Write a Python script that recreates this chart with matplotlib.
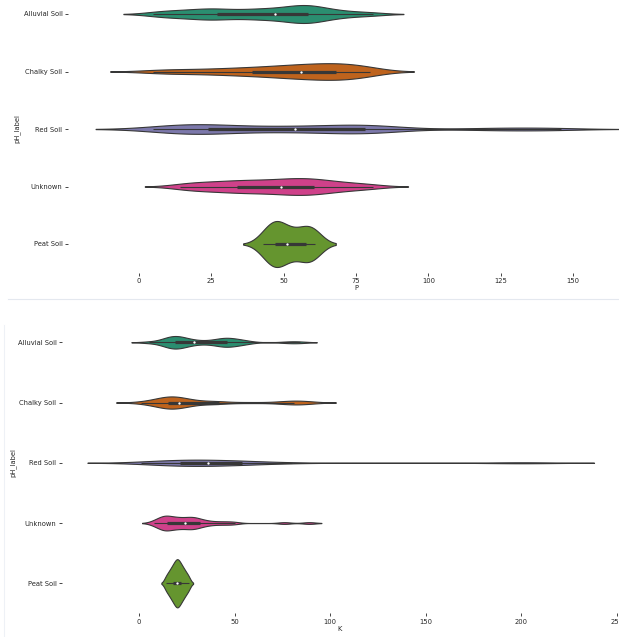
import colorsys
import matplotlib
matplotlib.use('Agg')
import matplotlib.pyplot as plt
from matplotlib import cbook
from matplotlib.lines import Line2D
from matplotlib.ticker import MultipleLocator
import numpy as np
import seaborn as sns


CATEGORIES = ['Alluvial Soil', 'Chalky Soil', 'Red Soil', 'Unknown', 'Peat Soil']

# P 的估计样本（按图形读出）
P_ALLUVIAL = [5, 9, 13, 16, 19, 22, 24, 26, 28, 31, 34, 37, 40, 42, 44, 47,
              49, 51, 53, 54, 56, 57, 58, 59, 61, 62, 64, 67, 70, 75, 81]
P_CHALKY = [5, 11, 17, 23, 28, 32, 36, 39, 42, 45, 48, 50, 52, 54, 56, 58,
            60, 62, 63, 65, 67, 68, 70, 71, 73, 75, 77, 79, 80]
P_RED = [5, 8, 11, 14, 17, 19, 21, 23, 25, 28, 32, 36, 40, 45, 50, 54,
         58, 62, 66, 70, 73, 75, 77, 79, 82, 86, 92, 118, 128, 137, 146]
P_UNKNOWN = [14, 17, 20, 23, 26, 28, 31, 33, 35, 37, 39, 41, 43, 45, 47, 49,
             51, 52, 54, 55, 57, 58, 60, 61, 63, 65, 67, 70, 73, 77, 81]
P_PEAT = [43, 45, 46, 46.5, 47.5, 48, 49, 51, 52.5, 55, 57, 58.5, 59.5, 60, 61]

# K 的估计样本
K_ALLUVIAL = [5, 12, 14, 15, 16, 17, 18, 18, 20, 20, 21, 22, 23, 25, 27, 29,
              33, 37, 40, 42, 44, 45, 45, 47, 48, 50, 52, 54, 57, 78, 84]
K_CHALKY = [1, 6, 9, 11, 12, 13, 14, 15, 15, 16, 17, 18, 19, 20, 20, 21,
            22, 24, 26, 28, 32, 38, 40, 44, 58, 72, 78, 81, 83, 85, 90]
K_RED = [1, 5, 9, 12, 15, 17, 19, 21, 22, 24, 26, 28, 30, 32, 34, 36,
         38, 40, 42, 44, 47, 50, 53, 55, 58, 62, 68, 80, 190, 200, 210]
K_UNKNOWN = [8, 9, 11, 12, 13, 14, 14, 14, 15, 17, 18, 19, 20, 21, 22, 24,
             25, 26, 27, 28, 29, 30, 31, 33, 35, 38, 42, 46, 50, 76, 89]
K_PEAT = [14.1, 15.6, 16.6, 17.5, 18.2, 18.9, 19.5, 20, 20.5, 21.1, 21.8,
          22.5, 23.4, 24.4, 25.9]

P_BW = [5.2, 7.5, 10, 6, 3.5]
K_BW = [4.5, 6.5, 14, 3.2, 1.2]

FONT_SIZE = 4.9
TEXT_COLOR = '.15'


def get_gray(colors):
    lum = min(colorsys.rgb_to_hls(*c[:3])[1] for c in colors) * 0.6
    return (lum, lum, lum)


def draw_violins(ax, groups, bws, colors, gray):
    curves = []
    for vals, bw in zip(groups, bws):
        vals = np.asarray(vals, dtype=float)
        grid = np.linspace(vals.min() - 2 * bw, vals.max() + 2 * bw, 250)
        z = (grid[:, None] - vals[None, :]) / bw
        dens = np.exp(-0.5 * z ** 2).sum(axis=1) / (len(vals) * bw * np.sqrt(2 * np.pi))
        curves.append((grid, dens))

    peak = max(d.max() for _, d in curves)

    for i, ((grid, dens), vals, color) in enumerate(zip(curves, groups, colors)):
        half = dens / peak * 0.4
        ax.fill_between(grid, i - half, i + half, facecolor=color,
                        edgecolor=gray, linewidth=0.8, zorder=1)
        st = cbook.boxplot_stats(np.asarray(vals, dtype=float))[0]
        ax.plot([st['whislo'], st['whishi']], [i, i], color=gray,
                linewidth=0.8, solid_capstyle='butt', zorder=2)
        ax.plot([st['q1'], st['q3']], [i, i], color=gray,
                linewidth=2.3, solid_capstyle='butt', zorder=2)
        ax.plot(st['med'], i, marker='o', color='white', markersize=1.7,
                markeredgewidth=0, zorder=3)


def style_axis(ax, xlabel, xlim, step, ylabel_x):
    ax.set_xlim(*xlim)
    ax.set_ylim(4.5, -0.5)
    ax.set_yticks(range(len(CATEGORIES)))
    ax.set_yticklabels(CATEGORIES)
    ax.xaxis.set_major_locator(MultipleLocator(step))
    for spine in ax.spines.values():
        spine.set_visible(False)
    ax.tick_params(axis='both', length=2.2, width=0.6, color=TEXT_COLOR,
                   labelsize=FONT_SIZE, labelcolor=TEXT_COLOR, pad=1.8)
    ax.set_xlabel(xlabel, fontsize=FONT_SIZE, color=TEXT_COLOR, labelpad=0.5)
    ax.set_ylabel('pH_label', fontsize=FONT_SIZE, color=TEXT_COLOR)
    ax.yaxis.set_label_coords(ylabel_x, 0.5)


def main():
    fig = plt.figure(figsize=(6.19, 6.37), dpi=100)
    colors = sns.color_palette('Dark2', 5, desat=0.75)
    gray = get_gray(colors)

    W, H = 619.0, 637.0

    # 上图: P
    ax1 = fig.add_axes([68 / W, 1 - 272.75 / H, (644 - 68) / W, 287.5 / H])
    draw_violins(ax1, [P_ALLUVIAL, P_CHALKY, P_RED, P_UNKNOWN, P_PEAT], P_BW, colors, gray)
    style_axis(ax1, 'P', ((68 - 139) / 2.8933, (644 - 139) / 2.8933), 25,
               (20 - 68) / (644 - 68))

    # 下图: K
    ax2 = fig.add_axes([62 / W, 1 - 613.4 / H, (618 - 62) / W, 301.25 / H])
    draw_violins(ax2, [K_ALLUVIAL, K_CHALKY, K_RED, K_UNKNOWN, K_PEAT], K_BW, colors, gray)
    style_axis(ax2, 'K', ((62 - 139) / 1.912, (618 - 139) / 1.912), 50,
               (16 - 62) / (618 - 62))

    # 两张图之间的分隔线
    fig.add_artist(Line2D([8 / W, 1], [1 - 298.5 / H, 1 - 298.5 / H],
                          transform=fig.transFigure, color='#e4e8ef', linewidth=0.8))
    fig.add_artist(Line2D([4 / W, 4 / W], [1 - 325 / H, 0],
                          transform=fig.transFigure, color='#eef1f6', linewidth=0.8))

    plt.savefig('out.png', dpi=100)
    plt.close()


if __name__ == '__main__':
    main()
